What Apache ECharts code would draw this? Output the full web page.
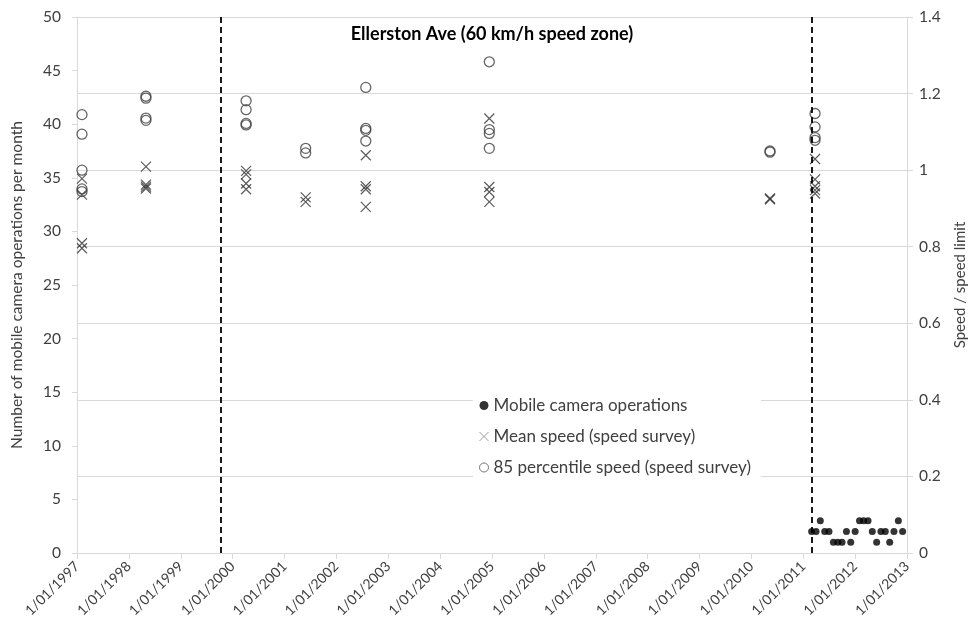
<!DOCTYPE html>
<html><head><meta charset="utf-8">
<script src="https://cdn.jsdelivr.net/npm/echarts@6/dist/echarts.min.js"></script>
<style>html,body{margin:0;padding:0;background:#fff}#c{width:976px;height:636px}</style>
</head><body><div id="c"></div>
<script>
// ---- data ----
const xTickLabels = ['1/01/1997','1/01/1998','1/01/1999','1/01/2000','1/01/2001','1/01/2002','1/01/2003','1/01/2004','1/01/2005','1/01/2006','1/01/2007','1/01/2008','1/01/2009','1/01/2010','1/01/2011','1/01/2012','1/01/2013'];
const leftTicks = [0,5,10,15,20,25,30,35,40,45,50];
const rightTickLabels = ['0','0.2','0.4','0.6','0.8','1','1.2','1.4'];
const surveyDates = ['1997-02-05','1998-05-01','2000-04-05','2001-05-30','2002-07-27','2004-12-13','2010-05-12','2011-03-25'];
const meanSpeed = [
  [0.978, 0.936, 0.809, 0.796],
  [1.009, 0.962, 0.957, 0.952],
  [0.998, 0.989, 0.965, 0.950],
  [0.929, 0.917],
  [1.039, 0.958, 0.950, 0.904],
  [1.135, 0.956, 0.943, 0.917],
  [0.926, 0.924],
  [1.029, 0.976, 0.958, 0.948, 0.939]
];
const p85Speed = [
  [1.145, 1.094, 1.000, 0.951, 0.944],
  [1.193, 1.188, 1.136, 1.130],
  [1.181, 1.158, 1.122, 1.118],
  [1.057, 1.045],
  [1.216, 1.109, 1.104, 1.076],
  [1.283, 1.106, 1.096, 1.057],
  [1.050, 1.047],
  [1.148, 1.113, 1.085, 1.078]
];
const cameraMonths = ['2011-03-01','2011-04-01','2011-05-01','2011-06-01','2011-07-01','2011-08-01','2011-09-01','2011-10-01','2011-11-01','2011-12-01','2012-01-01','2012-02-01','2012-03-01','2012-04-01','2012-05-01','2012-06-01','2012-07-01','2012-08-01','2012-09-01','2012-10-01','2012-11-01','2012-12-01'];
const cameraOps = [2,2,3,2,2,1,1,1,2,1,2,3,3,3,2,1,2,2,1,2,3,2];
const changeDates = ['1999-10-12','2011-02-28'];
const seriesNames = ['Mobile camera operations','Mean speed (speed survey)','85 percentile speed (speed survey)'];
const titleText = 'Ellerston Ave (60 km/h speed zone)';
const leftAxisName = 'Number of mobile camera operations per month';
const rightAxisName = 'Speed / speed limit';

// ---- helpers ----
function toYear(s){
  const p = s.split('-').map(Number);
  const t = Date.UTC(p[0], p[1]-1, p[2]);
  const a = Date.UTC(p[0],0,1), b = Date.UTC(p[0]+1,0,1);
  return p[0] + (t-a)/(b-a);
}
const meanData = [], p85Data = [];
surveyDates.forEach((d,i)=>{
  const x = toYear(d);
  meanSpeed[i].forEach(v=>meanData.push([x,v]));
  p85Speed[i].forEach(v=>p85Data.push([x,v]));
});
const camData = cameraMonths.map((d,i)=>[toYear(d), cameraOps[i]]);

const FONT = 'Lato';
const TXT = '#404040';
const GRIDC = '#d9d9d9';
const crossPath = 'path://M0,0L10,10M10,0L0,10';

const chart = echarts.init(document.getElementById('c'), null, {renderer:'canvas'});
chart.setOption({
  animation:false,
  backgroundColor:'#fff',
  textStyle:{fontFamily:FONT},
  title:{text:titleText, left:487, top:20, textAlign:'center',
    textStyle:{fontFamily:FONT, fontSize:18, fontWeight:'bold', color:'#000'}},
  grid:{left:77, right:68, top:17, bottom:83},
  legend:{
    orient:'vertical', left:473, top:391, backgroundColor:'#fff',
    padding:[6,10,6,6], itemGap:14, itemWidth:9, itemHeight:9,
    textStyle:{fontFamily:FONT, fontSize:17, color:TXT},
    data:[
      {name:seriesNames[0], icon:'circle', itemStyle:{color:'#000', borderWidth:0}},
      {name:seriesNames[1], icon:crossPath, itemStyle:{color:'transparent', borderColor:'#888', borderWidth:1}},
      {name:seriesNames[2], icon:'circle', itemStyle:{color:'transparent', borderColor:'#555', borderWidth:1}}
    ]
  },
  xAxis:{
    type:'value', min:1997, max:2013, interval:1,
    axisLine:{show:true, lineStyle:{color:GRIDC, width:1}},
    axisTick:{show:true, length:6, lineStyle:{color:GRIDC}},
    splitLine:{show:false},
    axisLabel:{rotate:45, fontFamily:FONT, fontSize:14, color:TXT, margin:11,
      formatter:v=>xTickLabels[Math.round(v-1997)]}
  },
  yAxis:[
    {type:'value', min:0, max:50, interval:5, position:'left',
      name:leftAxisName, nameLocation:'middle', nameGap:52, nameRotate:90,
      nameTextStyle:{fontFamily:FONT, fontSize:15.5, color:TXT},
      axisLine:{show:true, lineStyle:{color:GRIDC}},
      axisTick:{show:true, length:5, lineStyle:{color:GRIDC}},
      splitLine:{show:false},
      axisLabel:{fontFamily:FONT, fontSize:15.5, color:TXT, margin:16,
        formatter:v=>String(leftTicks[Math.round(v/5)])}},
    {type:'value', min:0, max:1.4, interval:0.2, position:'right',
      name:rightAxisName, nameLocation:'middle', nameGap:46, nameRotate:90,
      nameTextStyle:{fontFamily:FONT, fontSize:15, color:TXT},
      axisLine:{show:true, lineStyle:{color:GRIDC}},
      axisTick:{show:true, length:6, lineStyle:{color:GRIDC}},
      splitLine:{show:true, lineStyle:{color:GRIDC, width:1}},
      axisLabel:{fontFamily:FONT, fontSize:15.5, color:TXT, margin:12,
        formatter:v=>rightTickLabels[Math.round(v/0.2)]}}
  ],
  series:[
    {name:seriesNames[0], type:'scatter', yAxisIndex:0, data:camData,
      symbol:'circle', symbolSize:7, itemStyle:{color:'#000'}, z:3,
      markLine:{silent:true, symbol:['none','none'], label:{show:false},
        lineStyle:{color:'#000', type:[6,4], width:1.8},
        data:changeDates.map(d=>({xAxis:toYear(d)}))}},
    {name:seriesNames[1], type:'scatter', yAxisIndex:1, data:meanData,
      symbol:crossPath, symbolSize:10,
      itemStyle:{color:'transparent', borderColor:'#333', borderWidth:1.2}},
    {name:seriesNames[2], type:'scatter', yAxisIndex:1, data:p85Data,
      symbol:'circle', symbolSize:10,
      itemStyle:{color:'transparent', borderColor:'#404040', borderWidth:1.3}}
  ]
});
</script></body></html>
